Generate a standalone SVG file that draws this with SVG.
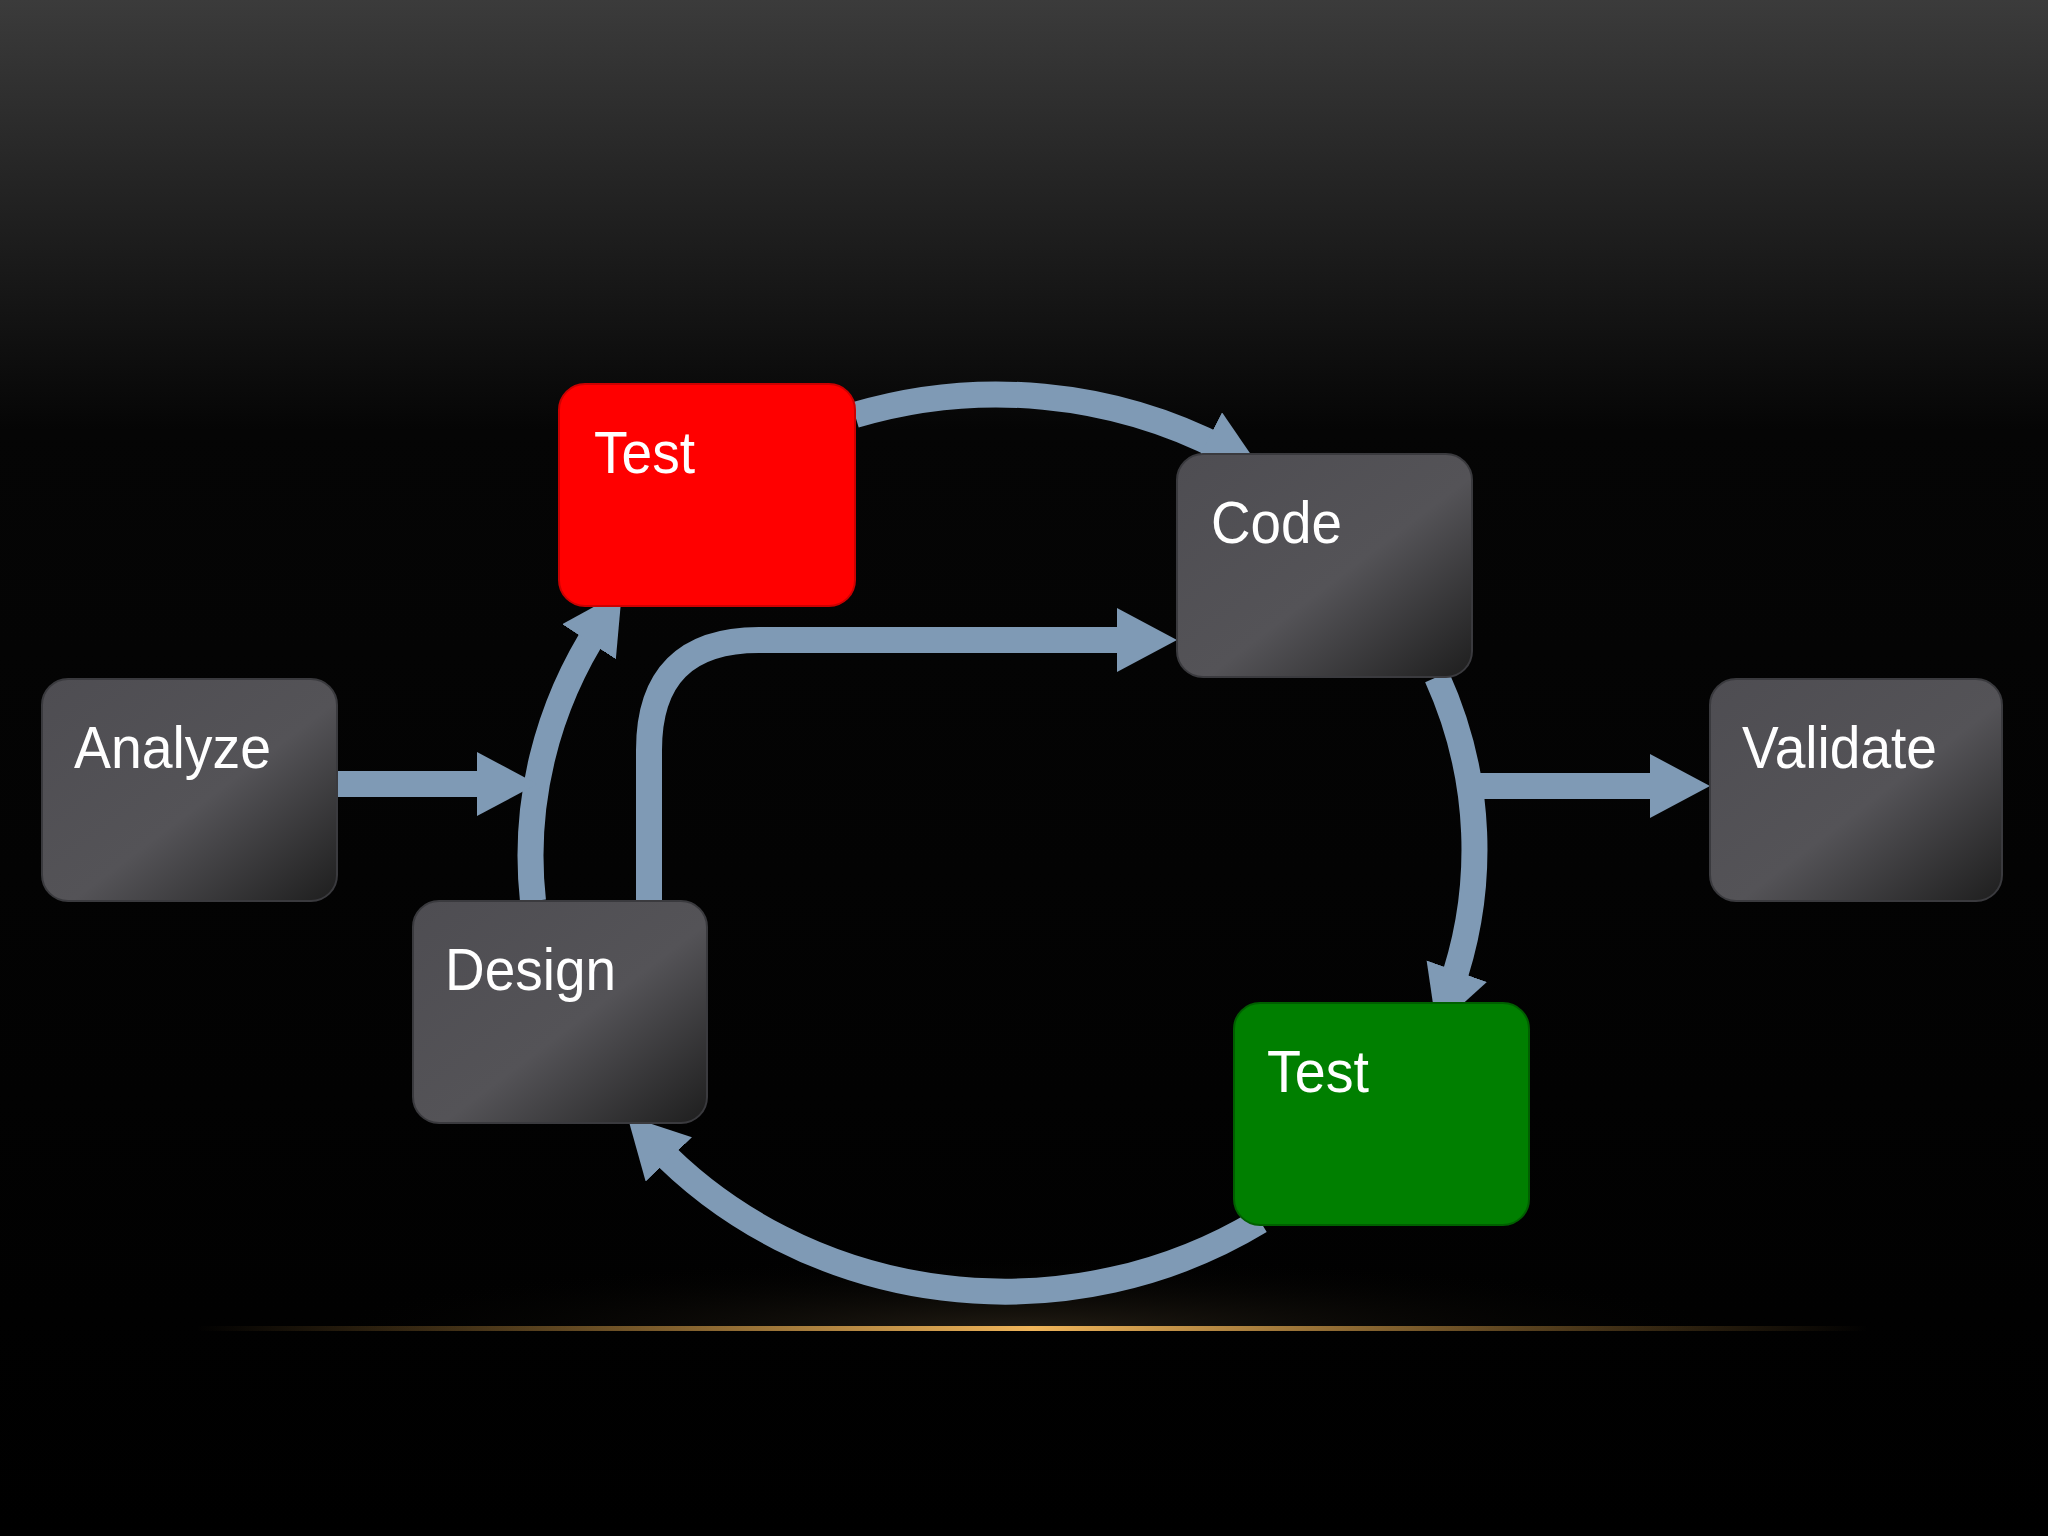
<svg xmlns="http://www.w3.org/2000/svg" width="2048" height="1536" viewBox="0 0 2048 1536">
<defs>
<linearGradient id="bg" x1="0" y1="0" x2="0" y2="1">
<stop offset="0" stop-color="#3b3b3b"/><stop offset="0.28" stop-color="#050505"/><stop offset="1" stop-color="#000"/>
</linearGradient>
<linearGradient id="gold" x1="0" y1="0" x2="1" y2="0">
<stop offset="0" stop-color="#c08a3a" stop-opacity="0"/><stop offset="0.5" stop-color="#f0b55a"/><stop offset="1" stop-color="#c08a3a" stop-opacity="0"/>
</linearGradient>
<radialGradient id="glow" cx="0.5" cy="1" r="0.5">
<stop offset="0" stop-color="#3a3020" stop-opacity="0.6"/><stop offset="1" stop-color="#000" stop-opacity="0"/>
</radialGradient>
<linearGradient id="node" x1="0" y1="0" x2="1" y2="1">
<stop offset="0" stop-color="#4e4d52"/><stop offset="0.55" stop-color="#545357"/><stop offset="1" stop-color="#1e1e1e"/>
</linearGradient>
<marker id="ah" markerUnits="userSpaceOnUse" markerWidth="70" markerHeight="70" refX="20" refY="32" orient="auto">
<path d="M0,0 L60,32 L0,64 z" fill="#7f9ab5"/>
</marker>
<style>
.n{fill:url(#node);stroke:#3a3a3e;stroke-width:2}
.t{font-family:"Liberation Sans",Arial,sans-serif;font-size:60px;fill:#fff}
.c{fill:none;stroke:#7f9ab5;stroke-width:26}
</style>
</defs>
<rect width="2048" height="1536" fill="url(#bg)"/>
<rect x="300" y="1180" width="1450" height="150" fill="url(#glow)"/>
<rect x="196" y="1326" width="1672" height="5" fill="url(#gold)"/>
<g id="connectors">
<path class="c" d="M855,415 A470,441 0 0 1 1225,450" marker-end="url(#ah)"/>
<path class="c" d="M1437,677 A470,441 0 0 1 1450,990" marker-end="url(#ah)"/>
<path class="c" d="M1260,1221 A470,441 0 0 1 655,1145" marker-end="url(#ah)"/>
<path class="c" d="M533,901 A470,441 0 0 1 600,625" marker-end="url(#ah)"/>
<path class="c" d="M337,784 L497,784" marker-end="url(#ah)"/>
<path class="c" d="M1476,786 L1670,786" marker-end="url(#ah)"/>
<path class="c" d="M649,901 L649,750 Q649,640 759,640 L1137,640" marker-end="url(#ah)"/>
</g>
<g id="test1"><rect x="559" y="384" width="296" height="222" rx="26" fill="#ff0000" stroke="#c00" stroke-width="2"/><text class="t" x="594" y="473" textLength="101" lengthAdjust="spacingAndGlyphs">Test</text></g>
<g id="code"><rect class="n" x="1177" y="454" width="295" height="223" rx="26"/><text class="t" x="1211" y="543" textLength="131" lengthAdjust="spacingAndGlyphs">Code</text></g>
<g id="analyze"><rect class="n" x="42" y="679" width="295" height="222" rx="26"/><text class="t" x="74" y="768" textLength="197" lengthAdjust="spacingAndGlyphs">Analyze</text></g>
<g id="validate"><rect class="n" x="1710" y="679" width="292" height="222" rx="26"/><text class="t" x="1742" y="768" textLength="195" lengthAdjust="spacingAndGlyphs">Validate</text></g>
<g id="design"><rect class="n" x="413" y="901" width="294" height="222" rx="26"/><text class="t" x="445" y="990" textLength="171" lengthAdjust="spacingAndGlyphs">Design</text></g>
<g id="test2"><rect x="1234" y="1003" width="295" height="222" rx="26" fill="#007f00" stroke="#005f00" stroke-width="2"/><text class="t" x="1267" y="1092" textLength="102" lengthAdjust="spacingAndGlyphs">Test</text></g>
</svg>
